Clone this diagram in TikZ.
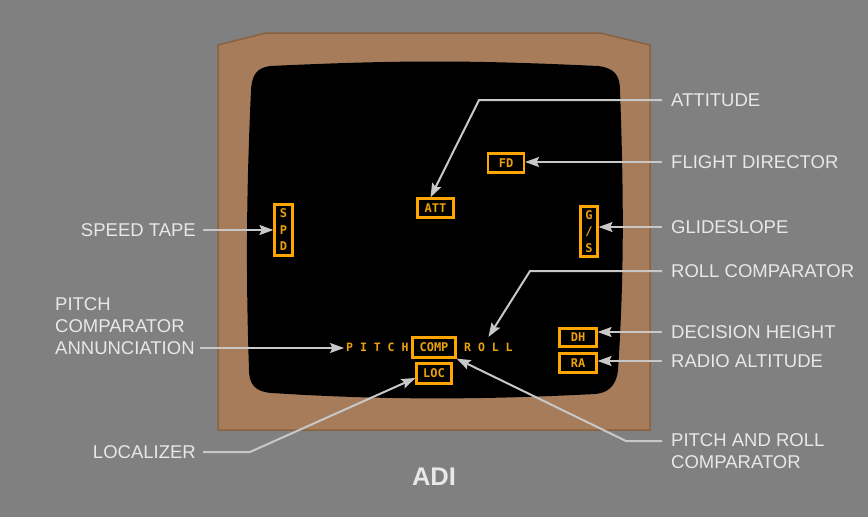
\documentclass[tikz,border=0pt]{standalone}
\usepackage{fontspec}
\setmainfont{Liberation Sans}
\newfontfamily\indfont{DejaVu Sans Mono}
\usetikzlibrary{arrows.meta}
\definecolor{bgcol}{HTML}{808080}
\definecolor{bezelfill}{HTML}{A67C5A}
\definecolor{bezeledge}{HTML}{8A6240}
\definecolor{labeltext}{HTML}{E8E8E8}
\definecolor{conncol}{HTML}{C8C8C8}
\definecolor{indbox}{HTML}{FFA500}
\definecolor{indtext}{HTML}{EBA20A}
\begin{document}
\begin{tikzpicture}[x=1pt,y=-1pt,
  lbl/.style={text=labeltext, font=\fontsize{18.5}{22}\selectfont, inner sep=0pt, align=left},
  conn/.style={draw=conncol, line width=2pt, -{Stealth[length=14pt,width=10pt,inset=2.5pt]}},
  ind/.style={draw=indbox, line width=2.2pt, text=indtext, font=\indfont\bfseries\fontsize{12}{16.5}\selectfont, inner sep=0pt, align=center},
  indtxt/.style={text=indtext, font=\indfont\bfseries\fontsize{11.5}{16.5}\selectfont, inner sep=0pt}]
\useasboundingbox (0,0) rectangle (868,517);
\fill[bgcol] (0,0) rectangle (868,517);
% bezel
\draw[fill=bezelfill, draw=bezeledge, line width=1.5pt]
  (218,45) -- (266,33) -- (600,33) -- (650,45) -- (650,430) -- (218,430) -- cycle;
% screen
\fill[black] (270,66) .. controls (400,60) and (470,60) .. (598,66)
  .. controls (614,68) and (620,75) .. (620,90)
  .. controls (624,200) and (624,280) .. (618,370)
  .. controls (616,388) and (606,393) .. (595,394)
  .. controls (480,400) and (380,400) .. (272,393)
  .. controls (256,392) and (249,385) .. (249,370)
  .. controls (246,280) and (246,200) .. (251,90)
  .. controls (252,73) and (258,68) .. (270,66) -- cycle;
% indicators
\node[ind, minimum width=36pt, minimum height=19pt] (fd) at (506,163) {FD};
\node[ind, minimum width=36pt, minimum height=19pt] (att) at (435.5,208) {ATT};
\node[ind, minimum width=17pt, minimum height=50pt] (gs) at (589,231.5) {G\\/\\S};
\node[ind, minimum width=18pt, minimum height=51pt] (spd) at (283.5,230) {S\\P\\D};
\node[ind, minimum width=43pt, minimum height=20pt] (comp) at (434,347.5) {COMP};
\node[ind, minimum width=35pt, minimum height=20pt] (loc) at (434,373.5) {LOC};
\node[ind, minimum width=37pt, minimum height=18pt] (dh) at (578,337.5) {DH};
\node[ind, minimum width=37pt, minimum height=19pt] (ra) at (578,363) {RA};
\node[indtxt, anchor=west] (pitch) at (346,347.5) {P I T C H};
\node[indtxt, anchor=west] (roll) at (464,347.5) {R O L L};
% labels
\node[lbl, anchor=west] (attl) at (671,100) {ATTITUDE};
\node[lbl, anchor=west] (fdl) at (671,162) {FLIGHT DIRECTOR};
\node[lbl, anchor=west] (gsl) at (671,227) {GLIDESLOPE};
\node[lbl, anchor=west] (rcl) at (671,271) {ROLL COMPARATOR};
\node[lbl, anchor=west] (dhl) at (671,332) {DECISION HEIGHT};
\node[lbl, anchor=west] (ral) at (671,361) {RADIO ALTITUDE};
\node[lbl, anchor=west] (prcl) at (671,451.5) {PITCH AND ROLL\\COMPARATOR};
\node[lbl, anchor=east] (spdl) at (196,230) {SPEED TAPE};
\node[lbl, anchor=west] (pcal) at (55,326) {PITCH\\COMPARATOR\\ANNUNCIATION};
\node[lbl, anchor=east] (locl) at (196,452) {LOCALIZER};
\node[text=labeltext, font=\bfseries\fontsize{25.5}{30}\selectfont, inner sep=0pt] (adi) at (434,477) {ADI};
% connectors
\coordinate (attk) at (479,100);
\draw[conn] ([xshift=-9pt]attl.west) -- (attk) -- ([xshift=-5pt]att.north);
\draw[conn] ([xshift=-9pt]fdl.west) -- (fdl.west -| fd.east);
\draw[conn] ([xshift=-9pt]gsl.west) -- (gsl.west -| gs.east);
\coordinate (rck) at (530,271);
\draw[conn] ([xshift=-9pt]rcl.west) -- (rck) -- ([yshift=6pt]roll.north);
\draw[conn] ([xshift=-9pt]dhl.west) -- (dhl.west -| dh.east);
\draw[conn] ([xshift=-9pt]ral.west) -- (ral.west -| ra.east);
\coordinate (prcs) at ([xshift=-9pt,yshift=10.5pt]prcl.west);
\coordinate (prck) at (626,441);
\draw[conn] (prcs) -- (prck) -- (comp.south east);
\draw[conn] ([xshift=7pt]spdl.east) -- (spdl.east -| spd.west);
\coordinate (pcas) at ([xshift=5pt,yshift=-22pt]pcal.east);
\draw[conn] (pcas) -- ([xshift=-2pt]pcas -| pitch.west);
\coordinate (lock) at (250,452);
\draw[conn] ([xshift=7pt]locl.east) -- (lock) -- ([yshift=-4.5pt]loc.west);
\end{tikzpicture}
\end{document}
